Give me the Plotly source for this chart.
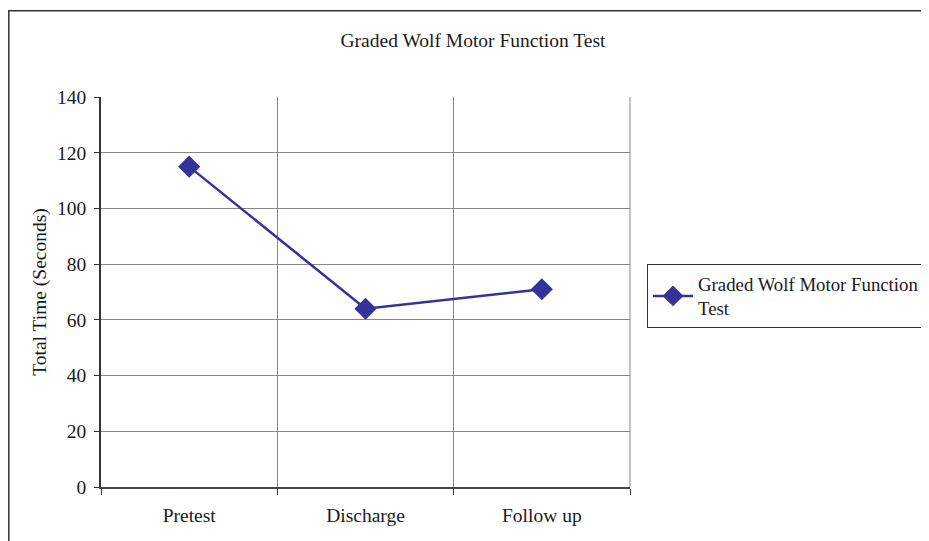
import plotly.graph_objects as go

categories = ["Pretest", "Discharge", "Follow up"]
values = [115, 64, 71]
series_name = "Graded Wolf Motor Function<br>Test"
title_text = "Graded Wolf Motor Function Test"
y_title = "Total Time (Seconds)"

# page has an 8px body offset; canvas coords = screen coords - 8
OFF = 8
W, H = 921, 541 - OFF
L, T = 101 - OFF, 97 - OFF
pw, ph = 529, 390
R, B = W - L - pw, H - T - ph

def px_x(p):
    return (p - OFF - L) / pw

def px_y(p):
    return (H - B - (p - OFF)) / ph

FS = 19.5
font = dict(family="Liberation Serif, Times New Roman, serif", size=FS, color="#1a1a1a")

fig = go.Figure()
fig.add_trace(go.Scatter(
    x=categories, y=values, mode="lines+markers", name=series_name,
    line=dict(color="#333399", width=2.5),
    marker=dict(symbol="diamond", size=17, color="#333399"),
))

fig.update_layout(
    width=W, height=H,
    margin=dict(l=L, r=R, t=T, b=B, autoexpand=False),
    paper_bgcolor="white", plot_bgcolor="white",
    font=font,
    title=dict(text=title_text, x=(473 - OFF) / W, xanchor="center",
               y=1 - (40 - OFF) / H, yanchor="middle", font=dict(size=FS)),
    showlegend=True,
    legend=dict(x=px_x(647), xanchor="left", y=px_y(264), yanchor="top",
                bordercolor="#333", borderwidth=1, bgcolor="white",
                font=dict(size=18.8), itemwidth=40, tracegroupgap=0),
    xaxis=dict(type="category", tickson="boundaries", range=[-0.5, 2.5],
               showgrid=True, gridcolor="#888", gridwidth=1,
               showline=True, linecolor="#444", linewidth=2,
               ticks="outside", ticklen=6, tickcolor="#333",
               ticklabelstandoff=10,
               tickfont=dict(size=FS), zeroline=False),
    yaxis=dict(range=[0, 140], dtick=20, tick0=0,
               showgrid=True, gridcolor="#888", gridwidth=1,
               showline=True, linecolor="#333", linewidth=1.5,
               ticks="outside", ticklen=5, tickcolor="#333",
               ticklabelstandoff=4,
               tickfont=dict(size=FS), zeroline=False,
               title=dict(text=y_title, font=dict(size=FS), standoff=5)),
    shapes=[
        dict(type="rect", xref="paper", yref="paper",
             x0=px_x(8.8), x1=px_x(1000), y0=px_y(600), y1=px_y(10.8),
             line=dict(color="#333", width=1.5), fillcolor="rgba(0,0,0,0)", layer="below"),
        dict(type="line", xref="paper", yref="paper", x0=1, x1=1, y0=0, y1=1,
             line=dict(color="#888", width=1)),
    ],
)

fig.write_html("out.html")
